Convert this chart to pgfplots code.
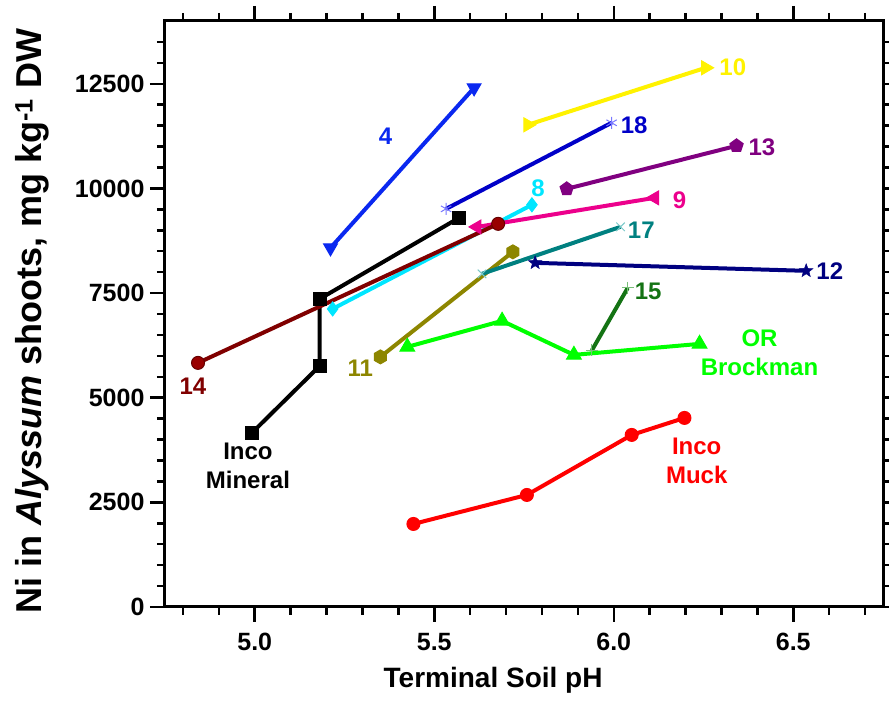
\documentclass[border=0pt]{standalone}
\usepackage{fontspec}
\setmainfont{Liberation Sans}
\usepackage{pgfplots}
\pgfplotsset{compat=1.18}
\usetikzlibrary{calc}
\definecolor{c18line}{RGB}{0,0,200}
\definecolor{c18mark}{RGB}{120,120,255}
\definecolor{c17mark}{RGB}{120,200,200}
\definecolor{c15mark}{RGB}{120,190,120}
\definecolor{c15}{RGB}{20,115,20}
\definecolor{c8}{RGB}{0,230,255}
\definecolor{c4}{RGB}{10,40,240}
\definecolor{c13}{RGB}{128,0,128}
\pgfdeclareplotmark{hexagon*}{%
  \pgfpathmoveto{\pgfpointpolar{90}{\pgfplotmarksize}}%
  \pgfpathlineto{\pgfpointpolar{150}{\pgfplotmarksize}}%
  \pgfpathlineto{\pgfpointpolar{210}{\pgfplotmarksize}}%
  \pgfpathlineto{\pgfpointpolar{270}{\pgfplotmarksize}}%
  \pgfpathlineto{\pgfpointpolar{330}{\pgfplotmarksize}}%
  \pgfpathlineto{\pgfpointpolar{30}{\pgfplotmarksize}}%
  \pgfpathclose
  \pgfusepathqfillstroke}
\pgfdeclareplotmark{fstar}{%
  \pgfpathmoveto{\pgfpointpolar{90}{\pgfplotmarksize}}%
  \pgfpathlineto{\pgfpointpolar{126}{0.42\pgfplotmarksize}}%
  \pgfpathlineto{\pgfpointpolar{162}{\pgfplotmarksize}}%
  \pgfpathlineto{\pgfpointpolar{198}{0.42\pgfplotmarksize}}%
  \pgfpathlineto{\pgfpointpolar{234}{\pgfplotmarksize}}%
  \pgfpathlineto{\pgfpointpolar{270}{0.42\pgfplotmarksize}}%
  \pgfpathlineto{\pgfpointpolar{306}{\pgfplotmarksize}}%
  \pgfpathlineto{\pgfpointpolar{342}{0.42\pgfplotmarksize}}%
  \pgfpathlineto{\pgfpointpolar{18}{\pgfplotmarksize}}%
  \pgfpathlineto{\pgfpointpolar{54}{0.42\pgfplotmarksize}}%
  \pgfpathclose
  \pgfusepathqfillstroke}
\begin{document}
\begin{tikzpicture}
\begin{axis}[
  name=ax,
  scale only axis,
  width=718pt, height=586pt,
  xmin=4.75, xmax=6.75, ymin=0, ymax=14000,
  xtick={5.0,5.5,6.0,6.5},
  ytick={0,2500,5000,7500,10000,12500},
  minor xtick={4.8,4.9,5.1,5.2,5.3,5.4,5.6,5.7,5.8,5.9,6.1,6.2,6.3,6.4,6.6,6.7},
  minor ytick={500,1000,1500,2000,3000,3500,4000,4500,5500,6000,6500,7000,8000,8500,9000,9500,10500,11000,11500,12000,13000,13500},
  tick align=outside,
  major tick length=15pt, minor tick length=8pt,
  axis line style={line width=3pt},
  major tick style={black, line width=2.5pt},
  minor tick style={black, line width=2.5pt},
  /pgf/number format/assume math mode=true,
  /pgf/number format/set thousands separator={},
  xticklabel style={/pgf/number format/fixed, /pgf/number format/fixed zerofill, /pgf/number format/precision=1, yshift=-8pt},
  yticklabel style={xshift=-2pt},
  ticklabel style={font=\fontsize{25}{28}\selectfont\bfseries},
  scaled x ticks=false, scaled y ticks=false,
  every axis y label/.style={at={(axis description cs:-0.185,0.488)}, rotate=90, anchor=center},
  every axis x label/.style={at={(axis description cs:0.457,-0.125)}, anchor=center},
  xlabel={\fontsize{28}{30}\selectfont\bfseries Terminal Soil pH},
  ylabel={\fontsize{36}{40}\selectfont\bfseries Ni in \textit{Alyssum} shoots, mg kg\textsuperscript{-1} DW},
  clip=false,
]
% Inco Mineral
\addplot[black, line width=4pt, mark=square*, mark size=6.5pt, mark options={solid, line width=1pt}] coordinates {(4.992,4159) (5.181,5760) (5.181,7361) (5.569,9297)};
% 8
\addplot[c8, line width=4pt, mark=diamond*, mark size=7pt, mark options={solid, line width=1pt}] coordinates {(5.217,7122) (5.772,9608)};
% 9
\addplot[magenta, line width=4pt, mark=triangle*, mark size=8pt, mark options={solid, line width=1pt, rotate=90}] coordinates {(5.619,9080) (6.114,9775)};
% 14
\addplot[red!50!black, line width=4pt, mark=*, mark size=6.5pt, mark options={solid, line width=1pt, fill=red!60!black, draw=red!40!black}] coordinates {(4.842,5832) (5.678,9154)};
% 4
\addplot[c4, line width=4pt, mark=triangle*, mark size=8pt, mark options={solid, line width=1pt, rotate=180}] coordinates {(5.211,8580) (5.611,12404)};
% 10
\addplot[yellow, line width=4pt, mark=triangle*, mark size=8pt, mark options={solid, line width=1pt, rotate=-90}] coordinates {(5.761,11520) (6.256,12882)};
% 18
\addplot[c18line, line width=4pt, mark=asterisk, mark size=6pt, mark options={solid, line width=1pt, c18mark}] coordinates {(5.533,9512) (5.994,11568)};
% 13
\addplot[c13, line width=4pt, mark=pentagon*, mark size=7pt, mark options={solid, line width=1pt}] coordinates {(5.869,9990) (6.342,11018)};
% 11
\addplot[olive, line width=4pt, mark=hexagon*, mark size=7pt, mark options={solid, line width=1pt}] coordinates {(5.350,5975) (5.719,8485)};
% 17
\addplot[teal, line width=4pt, mark=x, mark size=6pt, mark options={solid, line width=1pt, c17mark}] coordinates {(5.633,7959) (6.019,9082)};
% 12
\addplot[blue!50!black, line width=4pt, mark=fstar, mark size=7pt, mark options={solid, line width=0.5pt}] coordinates {(5.781,8222) (6.536,8031)};
% OR Brockman
\addplot[green, line width=4pt, mark=triangle*, mark size=8.5pt, mark options={solid, line width=1pt}] coordinates {(5.425,6214) (5.689,6836) (5.889,6023) (6.239,6286)};
% 15
\addplot[c15, line width=4pt, mark=+, mark size=6pt, mark options={solid, line width=1pt, c15mark}] coordinates {(5.939,6130) (6.039,7624)};
% Inco Muck
\addplot[red, line width=4pt, mark=*, mark size=6.5pt, mark options={solid, line width=1pt}] coordinates {(5.442,1984) (5.758,2677) (6.050,4111) (6.197,4517)};
% labels
\begin{scope}[every node/.style={font=\fontsize{24}{29}\selectfont\bfseries, inner sep=0pt}]
\node[c4] at (axis cs:5.364,11257) {4};
\node[yellow, anchor=west] at (axis cs:6.294,12906) {10};
\node[c18line, anchor=west] at (axis cs:6.019,11520) {18};
\node[c13, anchor=west] at (axis cs:6.375,10994) {13};
\node[magenta, anchor=west] at (axis cs:6.164,9727) {9};
\node[c8] at (axis cs:5.789,10014) {8};
\node[teal, anchor=west] at (axis cs:6.039,9011) {17};
\node[blue!50!black, anchor=west] at (axis cs:6.564,8031) {12};
\node[c15, anchor=west] at (axis cs:6.058,7529) {15};
\node[green, align=center] at (axis cs:6.406,6071) {OR\\Brockman};
\node[red, align=center] at (axis cs:6.231,3489) {Inco\\Muck};
\node[black, align=center] at (axis cs:4.981,3370) {Inco\\Mineral};
\node[red!50!black] at (axis cs:4.828,5282) {14};
\node[olive] at (axis cs:5.294,5712) {11};
\end{scope}
\end{axis}
\pgfresetboundingbox
\useasboundingbox ($(ax.south west)+(-165pt,-104pt)$) rectangle ($(ax.north east)+(6pt,21pt)$);
\end{tikzpicture}
\end{document}
